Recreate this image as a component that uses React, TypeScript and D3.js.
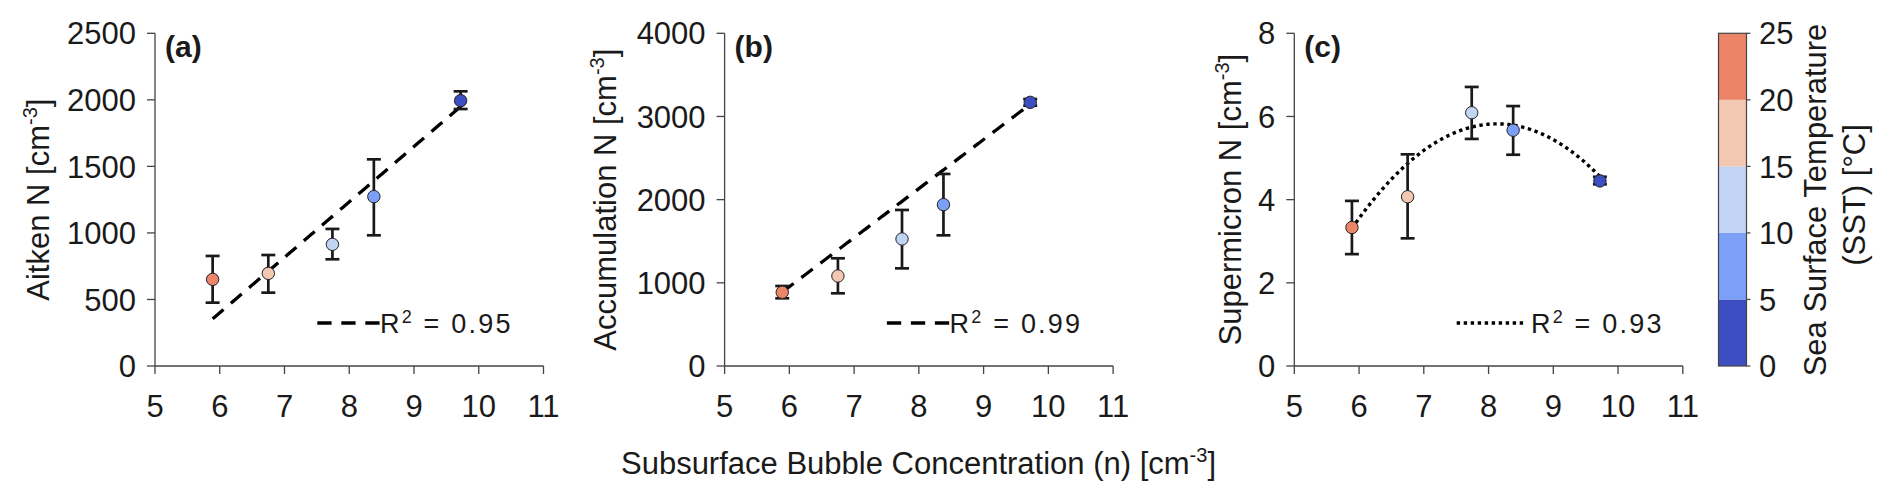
import React from 'react';
import * as d3 from 'd3';

const W = 1892;
const H = 492;
const FONT = '"Liberation Sans", Arial, Helvetica, sans-serif';

// shared x data: subsurface bubble concentration per SST group
const bubbleConc = [5.89, 6.75, 7.74, 8.38, 9.72];
const sstValues = [22.5, 17.5, 12.5, 7.5, 2.5];
const xTicks = [5, 6, 7, 8, 9, 10, 11];

// (a) Aitken
const aitkenMean = [651, 696, 914, 1273, 1994];
const aitkenLow = [476, 551, 802, 982, 1931];
const aitkenHigh = [827, 834, 1030, 1553, 2064];
const aitkenTicks = [0, 500, 1000, 1500, 2000, 2500];
const aitkenFit = [416.5, -2099]; // slope, intercept

// (b) Accumulation
const accumMean = [886, 1082, 1527, 1940, 3170];
const accumLow = [814, 874, 1174, 1571, 3130];
const accumHigh = [962, 1295, 1876, 2309, 3210];
const accumTicks = [0, 1000, 2000, 3000, 4000];
const accumFit = [590, -2587];

// (c) Supermicron
const superMean = [3.33, 4.07, 6.09, 5.67, 4.45];
const superLow = [2.69, 3.07, 5.46, 5.08, 4.37];
const superHigh = [3.97, 5.09, 6.71, 6.25, 4.55];
const superTicks = [0, 2, 4, 6, 8];
const superFit = [-0.501, 8.146, -27.29]; // a x^2 + b x + c

// colour bar
const sstBins = [5, 10, 15, 20];
const sstColors = ['#3c4ec2', '#7ca0f7', '#c2d4f3', '#f3c8b3', '#ec8468'];
const sstTicks = [0, 5, 10, 15, 20, 25];

const colorOf = d3.scaleThreshold<number, string>().domain(sstBins).range(sstColors);

const TOP = 33.3;
const BOTTOM = 366;
const PW = 388.5;

type Panel = {
  id: string;
  left: number;
  yLabel: string;
  yLabelX: number;
  yTicks: number[];
  mean: number[];
  low: number[];
  high: number[];
  fit: number[];
  dash: string;
  lineW: number;
  r2: string;
  legend: { x0: number; x1: number; tx: number };
};

const panels: Panel[] = [
  {
    id: 'a', left: 155, yLabel: 'Aitken N', yLabelX: 49, yTicks: aitkenTicks,
    mean: aitkenMean, low: aitkenLow, high: aitkenHigh, fit: aitkenFit,
    dash: '14.3 9.7', lineW: 3.3, r2: '0.95', legend: { x0: 317.3, x1: 379.6, tx: 380 },
  },
  {
    id: 'b', left: 724.6, yLabel: 'Accumulation N', yLabelX: 616, yTicks: accumTicks,
    mean: accumMean, low: accumLow, high: accumHigh, fit: accumFit,
    dash: '14.3 9.7', lineW: 3.3, r2: '0.99', legend: { x0: 886.9, x1: 949.2, tx: 949.6 },
  },
  {
    id: 'c', left: 1294.3, yLabel: 'Supermicron N', yLabelX: 1241, yTicks: superTicks,
    mean: superMean, low: superLow, high: superHigh, fit: superFit,
    dash: '3.4 3.6', lineW: 3.4, r2: '0.93', legend: { x0: 1456.7, x1: 1523.3, tx: 1531 },
  },
];

const evalFit = (coef: number[], x: number) =>
  coef.reduce((acc, c) => acc * x + c, 0);

const AXIS = '#444';
const INK = '#1a1a1a';

function PanelView({ p }: { p: Panel }) {
  const yMax = p.yTicks[p.yTicks.length - 1];
  const x = d3.scaleLinear().domain([5, 11]).range([p.left, p.left + PW]);
  const y = d3.scaleLinear().domain([0, yMax]).range([BOTTOM, TOP]);
  const xs = d3.range(bubbleConc[0], bubbleConc[bubbleConc.length - 1] + 1e-6, 0.02);
  const line = d3.line<number>().x(d => x(d)).y(d => y(evalFit(p.fit, d)));
  const cap = 7;

  return (
    <g>
      {/* axes */}
      <line x1={p.left} x2={p.left} y1={TOP} y2={BOTTOM} stroke={AXIS} strokeWidth={1.3} />
      <line x1={p.left} x2={p.left + PW} y1={BOTTOM} y2={BOTTOM} stroke={AXIS} strokeWidth={1.3} />
      {p.yTicks.map(t => (
        <g key={'y' + t}>
          <line x1={p.left - 8} x2={p.left} y1={y(t)} y2={y(t)} stroke={AXIS} strokeWidth={1.3} />
          <text x={p.left - 19} y={y(t)} dy="0.36em" textAnchor="end" fontSize={31} fill={INK}>{t}</text>
        </g>
      ))}
      {xTicks.map(t => (
        <g key={'x' + t}>
          <line x1={x(t)} x2={x(t)} y1={BOTTOM} y2={BOTTOM + 8} stroke={AXIS} strokeWidth={1.3} />
          <text x={x(t)} y={417} textAnchor="middle" fontSize={31} fill={INK}>{t}</text>
        </g>
      ))}
      <text transform={`translate(${p.yLabelX},${(TOP + BOTTOM) / 2}) rotate(-90)`} textAnchor="middle" fontSize={31} fill={INK}>
        {p.yLabel} [cm<tspan dy={-12} fontSize={20}>-3</tspan><tspan dy={12}>]</tspan>
      </text>
      <text x={p.left + 10} y={57} fontSize={30} fontWeight="bold" fill={INK}>({p.id})</text>

      {/* fit */}
      <path d={line(xs) || ''} fill="none" stroke="#000" strokeWidth={p.lineW} strokeDasharray={p.dash} />

      {/* error bars */}
      {bubbleConc.map((bx, i) => (
        <g key={'e' + i} stroke={INK} strokeWidth={2.7} fill="none">
          <line x1={x(bx)} x2={x(bx)} y1={y(p.low[i])} y2={y(p.high[i])} />
          <line x1={x(bx) - cap} x2={x(bx) + cap} y1={y(p.low[i])} y2={y(p.low[i])} />
          <line x1={x(bx) - cap} x2={x(bx) + cap} y1={y(p.high[i])} y2={y(p.high[i])} />
        </g>
      ))}
      {bubbleConc.map((bx, i) => (
        <circle key={'m' + i} cx={x(bx)} cy={y(p.mean[i])} r={6.2} fill={colorOf(sstValues[i])} stroke="#222" strokeWidth={1} />
      ))}

      {/* legend */}
      <line x1={p.legend.x0} x2={p.legend.x1} y1={323} y2={323} stroke="#000" strokeWidth={p.lineW} strokeDasharray={p.dash} />
      <text x={p.legend.tx} y={333.3} fontSize={27} fill={INK} letterSpacing={2.2} style={{ whiteSpace: 'pre' }}>
        R<tspan dy={-10} fontSize={18}>2</tspan><tspan dy={10}>{` = ${p.r2}`}</tspan>
      </text>
    </g>
  );
}

function ColorBar() {
  const x0 = 1718.5;
  const x1 = 1746.5;
  const y = d3.scaleLinear().domain([0, 25]).range([BOTTOM, TOP]);
  const edges = [0, ...sstBins, 25];
  return (
    <g>
      {sstColors.map((c, i) => (
        <rect key={c} x={x0} width={x1 - x0} y={y(edges[i + 1])} height={y(edges[i]) - y(edges[i + 1])} fill={c} />
      ))}
      <rect x={x0} y={TOP} width={x1 - x0} height={BOTTOM - TOP} fill="none" stroke={AXIS} strokeWidth={1.2} />
      {sstTicks.map(t => (
        <g key={t}>
          <line x1={x1} x2={x1 + 4} y1={y(t)} y2={y(t)} stroke={AXIS} strokeWidth={1.2} />
          <text x={1759} y={y(t)} dy="0.36em" fontSize={31} fill={INK}>{t}</text>
        </g>
      ))}
      <text transform={`translate(1826,200) rotate(-90)`} textAnchor="middle" fontSize={31} fill={INK}>Sea Surface Temperature</text>
      <text transform={`translate(1865,195) rotate(-90)`} textAnchor="middle" fontSize={31} fill={INK}>(SST) [°C]</text>
    </g>
  );
}

export default function App() {
  return (
    <svg width={W} height={H} style={{ position: 'absolute', left: 0, top: 0, background: '#fff' }} fontFamily={FONT}>
      <rect width={W} height={H} fill="#fff" />
      {panels.map(p => <PanelView key={p.id} p={p} />)}
      <ColorBar />
      <text x={918.5} y={474} textAnchor="middle" fontSize={31} fill={INK}>
        Subsurface Bubble Concentration (n) [cm<tspan dy={-12} fontSize={20}>-3</tspan><tspan dy={12}>]</tspan>
      </text>
    </svg>
  );
}
